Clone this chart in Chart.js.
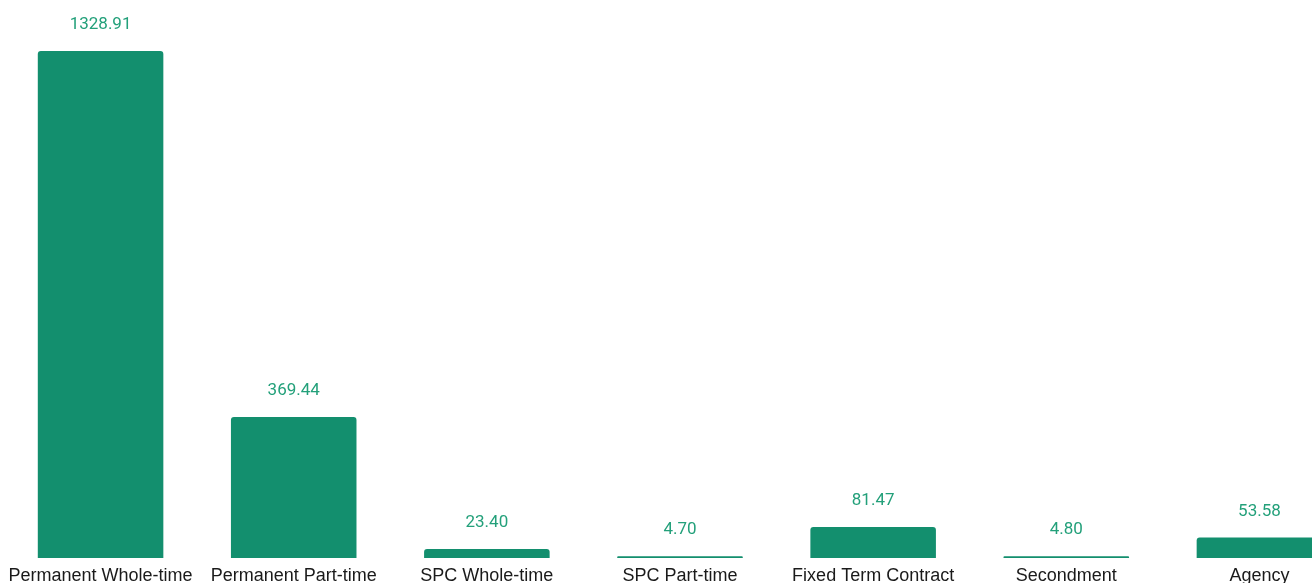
<!DOCTYPE html>
<html>
<head>
<meta charset="utf-8">
<script src="https://cdn.jsdelivr.net/npm/chart.js@4"></script>
<style>
    html, body { margin: 0; padding: 0; background: #fff; overflow: hidden; }
    #wrap { width: 1360px; height: 583px; }
</style>
</head>
<body>
<div id="wrap"><canvas id="contractChart"></canvas></div>
<script>
let categories = ['Permanent Whole-time', 'Permanent Part-time', 'SPC Whole-time', 'SPC Part-time', 'Fixed Term Contract', 'Secondment', 'Agency'];
let fteValues = [1328.91, 369.44, 23.40, 4.70, 81.47, 4.80, 53.58];

let barColor = '#138f6e';
let valueColor = '#23a07a';

// étiquettes de valeur au-dessus de chaque barre
let valueLabels = {
    id: 'valueLabels',
    afterDatasetsDraw(chart) {
        let ctx = chart.ctx;
        let meta = chart.getDatasetMeta(0);
        ctx.save();
        ctx.font = '17px Roboto';
        ctx.fillStyle = valueColor;
        ctx.textAlign = 'center';
        ctx.textBaseline = 'middle';
        meta.data.forEach((bar, i) => {
            ctx.fillText(fteValues[i].toFixed(2), bar.x, bar.y - 26);
        });
        ctx.restore();
    }
};

let ctx = document.getElementById('contractChart').getContext('2d');
let myChart = new Chart(ctx, {
    type: 'bar',
    data: {
        labels: categories,
        datasets: [{
            data: fteValues,
            backgroundColor: barColor,
            borderRadius: 3,
            borderSkipped: 'bottom',
            barPercentage: 0.65,
            categoryPercentage: 1
        }]
    },
    options: {
        responsive: true,
        maintainAspectRatio: false,
        animation: false,
        layout: { padding: { top: 51, left: 4, right: 4, bottom: 0 } },
        plugins: {
            legend: { display: false },
            tooltip: { enabled: false }
        },
        scales: {
            x: {
                grid: { display: false },
                border: { display: false },
                afterFit: (scale) => { scale.height = 25; },
                ticks: {
                    color: '#1a1a1a',
                    padding: -1,
                    maxRotation: 0,
                    autoSkip: false,
                    font: { family: '"Liberation Sans", Arial, sans-serif', size: 18 }
                }
            },
            y: {
                display: false,
                min: 0,
                max: Math.max(...fteValues)
            }
        }
    },
    plugins: [valueLabels]
});
</script>
</body>
</html>
